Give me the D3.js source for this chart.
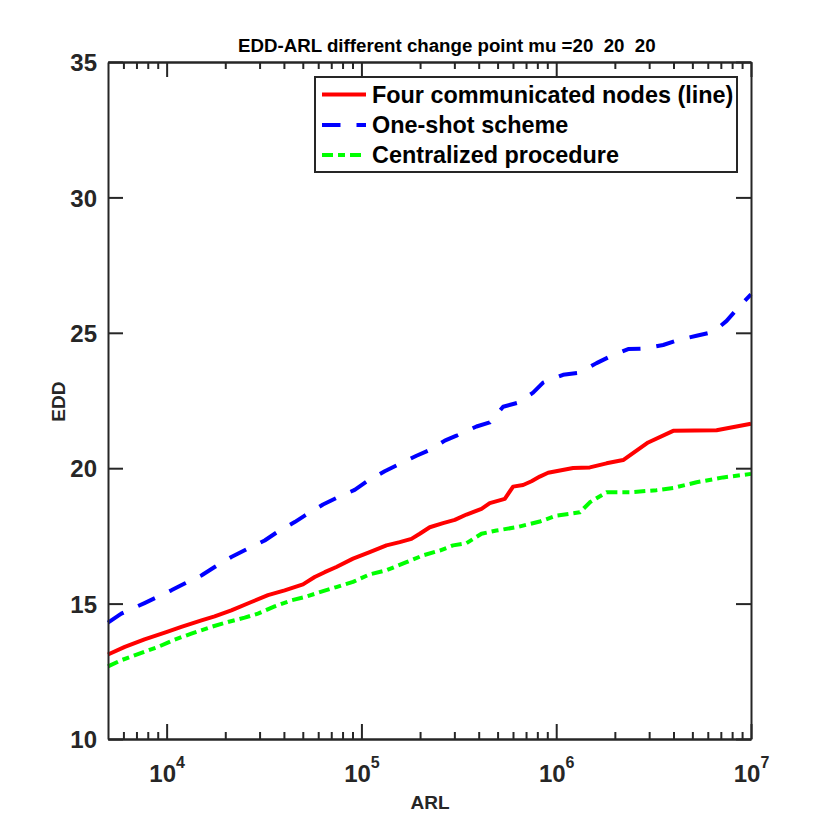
<!DOCTYPE html>
<html>
<head>
<meta charset="utf-8">
<script src="https://cdn.jsdelivr.net/npm/d3@7"></script>
<style>
  body { margin: 0; background: #fff; }
  svg { font-family: "Liberation Sans", Arial, sans-serif; font-weight: bold; }
</style>
</head>
<body>
<svg id="chart" width="830" height="830"></svg>
<script>
// values
let arlFour = [5000, 6100, 7700, 9960, 11900, 15100, 17640, 21480, 27220, 33130, 40360, 50120, 57550, 64790, 74380, 90560,
    110300, 134400, 157300, 180600, 199300, 224300, 262500, 301500, 346300, 413400, 456000, 544500, 600600, 676100, 746700,
    823600, 908600, 1221000, 1488000, 1813000, 2206000, 2965000, 3986000, 6657000, 10000000]
let eddFour = [13.12, 13.40, 13.68, 13.95, 14.14, 14.38, 14.53, 14.75, 15.06, 15.31, 15.49, 15.71, 15.98, 16.16, 16.35, 16.66,
    16.90, 17.15, 17.27, 17.39, 17.58, 17.82, 17.97, 18.09, 18.29, 18.50, 18.71, 18.87, 19.32, 19.38, 19.52,
    19.69, 19.83, 20.01, 20.03, 20.18, 20.30, 20.95, 21.38, 21.40, 21.64]

let arlOneShot = [5000, 5852, 7700, 10570, 12370, 15070, 17640, 21480, 26160, 31870, 36590, 45440, 51150, 63500, 75830, 92380,
    108100, 131700, 154200, 191700, 224300, 267900, 307600, 389700, 456000, 533800, 637300, 760800, 856400, 1085000,
    1322000, 1611000, 1923000, 2341000, 2852000, 3541000, 4228000, 5254000, 6396000, 7494000, 8597000, 10000000]
let eddOneShot = [14.30, 14.63, 15.02, 15.49, 15.74, 16.04, 16.35, 16.72, 17.03, 17.33, 17.62, 18.01, 18.25, 18.66, 18.93, 19.20,
    19.54, 19.89, 20.13, 20.46, 20.67, 21.02, 21.20, 21.54, 21.69, 22.27, 22.42, 22.79, 23.16, 23.45,
    23.53, 23.88, 24.15, 24.40, 24.42, 24.55, 24.73, 24.89, 25.03, 25.44, 25.93, 26.42]

let arlCentral = [5000, 5852, 7700, 9022, 10990, 13390, 16970, 20640, 25160, 29430, 35860, 43700, 51150, 63500, 74380, 90560,
    110300, 134400, 170300, 207200, 252500, 295500, 346300, 413400, 493500, 625400, 823600, 1003000, 1322000,
    1488000, 1813000, 2388000, 3274000, 3986000, 5254000, 7198000, 10000000]
let eddCentral = [12.68, 12.91, 13.22, 13.40, 13.67, 13.89, 14.14, 14.32, 14.48, 14.63, 14.90, 15.12, 15.24, 15.46, 15.61, 15.80,
    16.08, 16.23, 16.53, 16.78, 16.96, 17.15, 17.23, 17.58, 17.70, 17.82, 18.03, 18.25, 18.37,
    18.74, 19.11, 19.11, 19.19, 19.27, 19.48, 19.66, 19.79]

let seriesNames = ["Four communicated nodes (line)", "One-shot scheme", "Centralized procedure"]
let seriesColors = ["#ff0000", "#0000ff", "#00ff00"]
let seriesDash = [null, "18.5,16", "11,5,7,5"]
let xMajor = [1e4, 1e5, 1e6, 1e7]
let yTicks = [10, 15, 20, 25, 30, 35]

let plotLeft = 108, plotRight = 751, plotTop = 62, plotBottom = 739
let axisColor = "#262626"

let svg = d3.select("#chart")

let x = d3.scaleLog().domain([5000, 1e7]).range([plotLeft, plotRight])
let y = d3.scaleLinear().domain([10, 35]).range([plotBottom, plotTop])

let xMinor = []
for (let p = 3; p < 7; p++) {
    for (let m = 2; m <= 9; m++) {
        let v = m * Math.pow(10, p)
        if (v > 5000 && v < 1e7) xMinor.push(v)
    }
}

// data lines
let series = [
    arlFour.map((a, i) => [a, eddFour[i]]),
    arlOneShot.map((a, i) => [a, eddOneShot[i]]),
    arlCentral.map((a, i) => [a, eddCentral[i]])
]
let line = d3.line().x(d => x(d[0])).y(d => y(d[1]))

for (let i = 0; i < series.length; i++) {
    svg.append("path")
        .datum(series[i])
        .attr("d", line)
        .attr("fill", "none")
        .attr("stroke", seriesColors[i])
        .attr("stroke-width", 4)
        .attr("stroke-linejoin", "round")
        .attr("stroke-dasharray", seriesDash[i])
}

function styleAxis(g) {
    g.select(".domain").attr("stroke", axisColor).attr("stroke-width", 2)
    g.selectAll(".tick line").attr("stroke", axisColor).attr("stroke-width", 2)
    g.attr("font-family", null).attr("font-size", null)
}

// x axes (bottom with labels, top without)
svg.append("g")
    .attr("transform", "translate(0," + plotBottom + ")")
    .call(d3.axisBottom(x).tickValues(xMinor).tickSizeInner(-7).tickSizeOuter(0).tickFormat(""))
    .call(styleAxis)
svg.append("g")
    .attr("transform", "translate(0," + plotTop + ")")
    .call(d3.axisTop(x).tickValues(xMinor).tickSizeInner(-7).tickSizeOuter(0).tickFormat(""))
    .call(styleAxis)
svg.append("g")
    .attr("transform", "translate(0," + plotTop + ")")
    .call(d3.axisTop(x).tickValues(xMajor).tickSizeInner(-15).tickSizeOuter(0).tickFormat(""))
    .call(styleAxis)

let xAxisG = svg.append("g")
    .attr("transform", "translate(0," + plotBottom + ")")
    .call(d3.axisBottom(x).tickValues(xMajor).tickSizeInner(-15).tickSizeOuter(0).tickPadding(0))
    .call(styleAxis)
xAxisG.selectAll(".tick text")
    .attr("y", 43)
    .attr("dy", null)
    .attr("fill", axisColor)
    .style("font-size", "24px")
    .text("")
    .each(function (d) {
        let t = d3.select(this)
        t.append("tspan").text("10")
        t.append("tspan").attr("dy", -14).style("font-size", "16px").text(Math.round(Math.log10(d)))
    })

// y axes
let yAxisG = svg.append("g")
    .attr("transform", "translate(" + plotLeft + ",0)")
    .call(d3.axisLeft(y).tickValues(yTicks).tickSizeInner(-15).tickSizeOuter(0).tickPadding(11))
    .call(styleAxis)
yAxisG.selectAll(".tick text")
    .attr("fill", axisColor)
    .attr("dy", "0.36em")
    .style("font-size", "24px")

svg.append("g")
    .attr("transform", "translate(" + plotRight + ",0)")
    .call(d3.axisRight(y).tickValues(yTicks).tickSizeInner(-15).tickSizeOuter(0).tickFormat(""))
    .call(styleAxis)

// title and axis labels
svg.append("text")
    .attr("x", 238)
    .attr("y", 52)
    .style("font-size", "18.7px")
    .attr("fill", "#000")
    .attr("xml:space", "preserve")
    .style("white-space", "pre")
    .text("EDD-ARL different change point mu =20  20  20")

svg.append("text")
    .attr("x", 430)
    .attr("y", 809)
    .attr("text-anchor", "middle")
    .style("font-size", "19px")
    .attr("fill", axisColor)
    .text("ARL")

svg.append("text")
    .attr("transform", "translate(65,401.7) rotate(-90)")
    .attr("text-anchor", "middle")
    .style("font-size", "19px")
    .attr("fill", axisColor)
    .text("EDD")

// legend
let legend = svg.append("g")
legend.append("rect")
    .attr("x", 315).attr("y", 77)
    .attr("width", 422).attr("height", 95)
    .attr("fill", "#fff")
    .attr("stroke", axisColor)
    .attr("stroke-width", 2)

let rowY = [94.5, 125, 155]
for (let i = 0; i < seriesNames.length; i++) {
    legend.append("line")
        .attr("x1", 322).attr("x2", 366)
        .attr("y1", rowY[i]).attr("y2", rowY[i])
        .attr("stroke", seriesColors[i])
        .attr("stroke-width", 4)
        .attr("stroke-dasharray", seriesDash[i])
    legend.append("text")
        .attr("x", 372)
        .attr("y", rowY[i] + 8)
        .style("font-size", "23.4px")
        .attr("fill", "#000")
        .text(seriesNames[i])
}
</script>
</body>
</html>
